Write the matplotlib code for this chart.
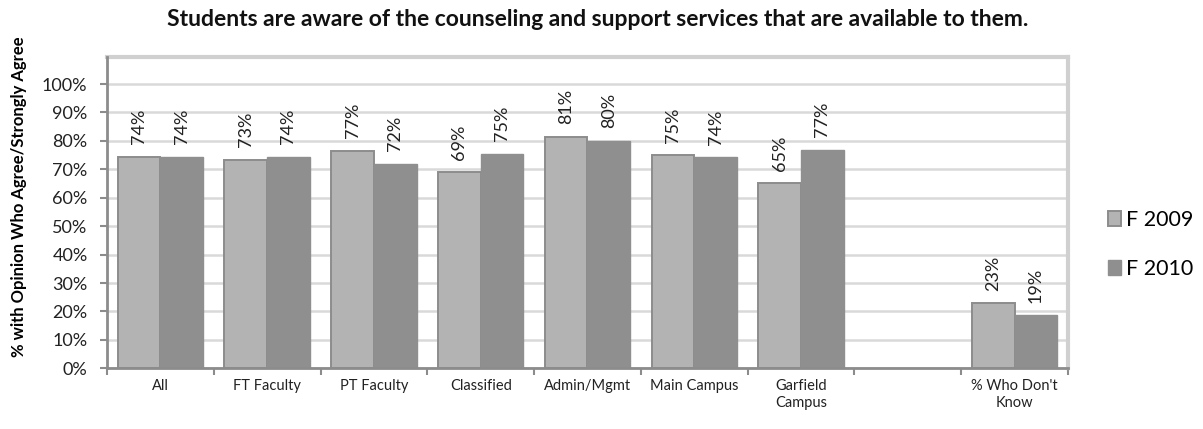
import numpy as np
import matplotlib
matplotlib.use("Agg")
import matplotlib.pyplot as plt
from matplotlib.ticker import FixedLocator, PercentFormatter
from matplotlib.patches import Patch

plt.rcParams['font.family'] = ['Lato', 'DejaVu Sans']

categories = ["All", "FT Faculty", "PT Faculty", "Classified", "Admin/Mgmt",
              "Main Campus", "Garfield\nCampus", "", "% Who Don't\nKnow"]
f2009 = [74.4, 73.3, 76.6, 68.9, 81.4, 74.9, 65.1, np.nan, 22.9]
f2010 = [74.4, 74.4, 71.9, 75.4, 80.1, 74.2, 76.8, np.nan, 18.7]
series_names = ["F 2009", "F 2010"]
yticks = [0, 10, 20, 30, 40, 50, 60, 70, 80, 90, 100]

c09, c10, edge = "#b3b3b3", "#8f8f8f", "#8c8c8c"

fig = plt.figure(figsize=(12.03, 4.29), dpi=100)
ax = fig.add_axes([0.0889, 0.1415, 0.7989, 0.7256])

x = np.arange(len(categories))
w = 0.4
b1 = ax.bar(x + 0.5 - w, f2009, width=w, align='edge', color=c09,
            edgecolor=edge, linewidth=1.4, zorder=3)
b2 = ax.bar(x + 0.5, f2010, width=w, align='edge', color=c10,
            edgecolor=c10, linewidth=1.0, zorder=3)

for bars, vals in ((b1, f2009), (b2, f2010)):
    for rect, v in zip(bars, vals):
        if np.isnan(v):
            continue
        ax.annotate(f"{v:.0f}%", (rect.get_x() + rect.get_width() / 2, v),
                    xytext=(0, 9), textcoords='offset points',
                    rotation=90, ha='center', va='bottom', fontsize=13,
                    color='#222222')

ax.set_xlim(0, len(categories))
ax.set_ylim(0, 109.5)
ax.yaxis.set_major_locator(FixedLocator(yticks))
ax.yaxis.set_major_formatter(PercentFormatter(decimals=0))
ax.set_xticks(x + 0.5)
ax.set_xticklabels(categories, fontsize=10.5, color='#222222',
                   linespacing=1.25)
ax.xaxis.set_minor_locator(FixedLocator(np.arange(len(categories) + 1)))
ax.tick_params(axis='x', which='major', length=0, pad=8)
ax.tick_params(axis='x', which='minor', length=5, width=1.5, color=edge,
               direction='out')
ax.tick_params(axis='y', length=5, width=1.5, color=edge, direction='out',
               labelsize=13, labelcolor='#222222', pad=9)

ax.grid(axis='y', color='#d9d9d9', linewidth=1.8, zorder=0)
ax.set_axisbelow(True)
for side in ('left', 'bottom'):
    ax.spines[side].set_color(edge)
    ax.spines[side].set_linewidth(2)
    ax.spines[side].set_zorder(4)
for side in ('top', 'right'):
    ax.spines[side].set_color('#d0d0d0')
    ax.spines[side].set_linewidth(3)

ax.set_ylabel("% with Opinion Who Agree/Strongly Agree", fontsize=12,
              fontweight='bold')
ax.yaxis.set_label_coords(-0.083, 0.55)

fig.suptitle("Students are aware of the counseling and support services that are available to them.",
             x=0.497, y=0.978, fontsize=16.5, fontweight='bold', color='#111111')

handles = [Patch(facecolor=c09, edgecolor=edge, linewidth=1.4),
           Patch(facecolor=c10, edgecolor=c10)]
fig.legend(handles, series_names, loc='center left',
           bbox_to_anchor=(0.905, 0.431), frameon=False, fontsize=15.5,
           handlelength=0.6, handleheight=0.7, handletextpad=0.25,
           labelspacing=1.35)

fig.savefig("out.png", dpi=100, facecolor='white')
